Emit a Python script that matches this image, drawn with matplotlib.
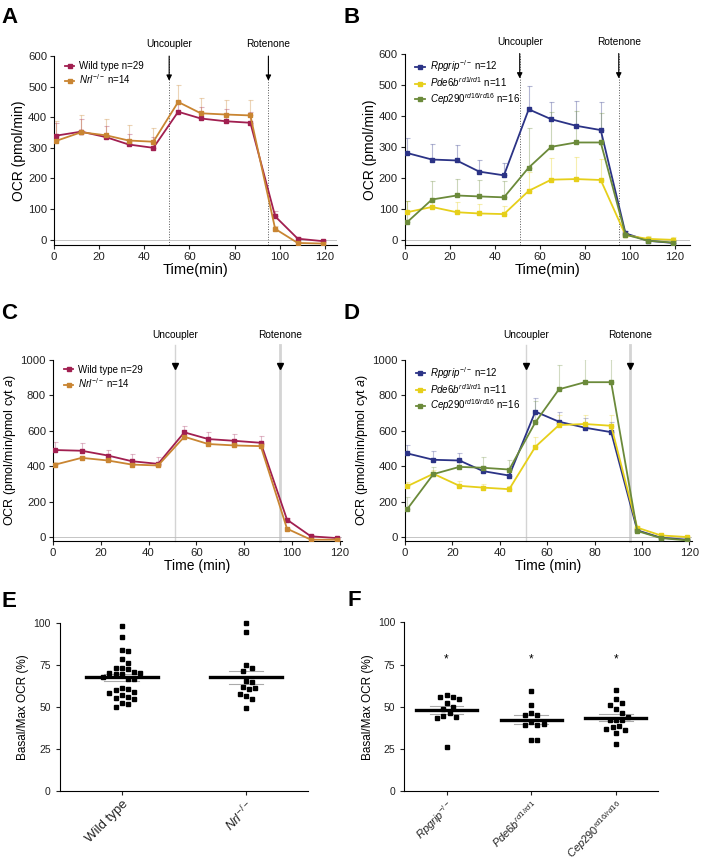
import numpy as np
import matplotlib
matplotlib.use('Agg')
from matplotlib import pyplot as plt

plt.rcParams['font.family'] = 'Liberation Sans'
plt.rcParams['mathtext.fontset'] = 'custom'
plt.rcParams['mathtext.rm'] = 'Liberation Sans'
plt.rcParams['mathtext.it'] = 'Liberation Sans:italic'

# ---------------- data
time = [1, 12, 23, 33, 44, 55, 65, 76, 87, 98, 108, 119]

# A: OCR (pmol/min)
a_wt = [340, 353, 335, 311, 300, 418, 396, 387, 382, 76, 3, -5]
a_wt_err = [40, 40, 38, 33, 36, 35, 36, 40, 36, 18, 5, 4]
a_nrl = [323, 351, 341, 324, 320, 450, 413, 409, 406, 35, -11, -13]
a_nrl_err = [65, 58, 52, 50, 46, 57, 50, 49, 50, 10, 4, 4]

# B: OCR (pmol/min)
b_rpg = [279, 258, 255, 219, 207, 420, 388, 367, 353, 20, -4, -11]
b_rpg_err = [48, 50, 49, 38, 40, 76, 56, 79, 89, 8, 6, 6]
b_pde = [88, 105, 88, 84, 82, 157, 193, 195, 192, 14, 2, -1]
b_pde_err = [36, 30, 32, 32, 25, 60, 69, 70, 68, 8, 10, 10]
b_cep = [56, 129, 142, 139, 136, 232, 299, 313, 313, 16, -4, -10]
b_cep_err = [67, 60, 54, 53, 53, 128, 113, 101, 95, 10, 12, 10]

# C: OCR (pmol/min/pmol cyt a)
c_wt = [491, 487, 460, 428, 413, 591, 553, 543, 532, 98, 4, -6]
c_wt_err = [43, 41, 34, 38, 36, 37, 38, 36, 36, 10, 5, 5]
c_nrl = [409, 447, 432, 409, 404, 566, 525, 517, 513, 47, -15, -15]
c_nrl_err = [12, 10, 10, 10, 10, 12, 10, 10, 10, 5, 3, 3]

# D: OCR (pmol/min/pmol cyt a)
d_rpg = [472, 436, 432, 372, 347, 708, 651, 617, 592, 38, -4, -15]
d_rpg_err = [47, 48, 45, 30, 40, 75, 57, 57, 55, 10, 5, 5]
d_pde = [287, 357, 289, 279, 270, 509, 632, 638, 628, 53, 9, 0]
d_pde_err = [26, 20, 26, 23, 20, 57, 55, 51, 61, 10, 5, 5]
d_cep = [158, 355, 396, 391, 381, 647, 834, 874, 874, 34, -6, -19]
d_cep_err = [68, 40, 40, 61, 55, 120, 136, 130, 130, 10, 5, 5]

# E / F: Basal/Max OCR (%)
e_wt = [98, 91.5, 84, 83.5, 78.5, 76.5, 73.5, 73.5, 72.5, 71, 70.5, 70.5, 69.5, 69.5,
        67, 66.5, 61.5, 61, 60.5, 59, 58.5, 57, 56, 55.5, 55, 52.5, 52, 50, 68]
e_nrl = [100, 95, 75.3, 73.2, 71.8, 65.4, 64.8, 62.2, 60.6, 61.6, 56.7, 54.7, 49.5, 58]
f_rpg = [57, 56, 55.5, 54.5, 52, 50, 48.5, 46.5, 44.5, 44, 43.5, 26.5]
f_pde = [59.2, 50.9, 46.6, 45.4, 45.4, 41, 39, 39, 40, 30.2, 30.2]
f_cep = [60.2, 54.4, 52.2, 51.3, 48.5, 46.3, 42, 42, 42, 38.5, 38, 36.1, 37.1, 34.5, 28.2, 44]

col_wt = '#a11f50'
col_nrl = '#c98532'
col_rpg = '#2b3386'
col_pde = '#e6cf1a'
col_cep = '#6b8a3a'

lab_wt = 'Wild type n=29'
lab_nrl = r'$\mathit{Nrl}^{-/-}$ n=14'
lab_rpg = r'$\mathit{Rpgrip}^{-/-}$ n=12'
lab_pde = r'$\mathit{Pde6b}^{\mathit{rd1/rd1}}$ n=11'
lab_cep = r'$\mathit{Cep290}^{\mathit{rd16/rd16}}$ n=16'

fig = plt.figure(figsize=(7.03, 8.63), dpi=100)


def style(ax):
    for s in ['top', 'right']:
        ax.spines[s].set_visible(False)
    ax.spines['left'].set_linewidth(0.8)
    ax.spines['bottom'].set_linewidth(0.8)
    ax.tick_params(direction='out', length=3, width=0.8, colors='#222222')


def series(ax, y, err, col, lab, err_alpha=0.35):
    ax.errorbar(time, y, yerr=[np.zeros(len(err)), err], fmt='none', ecolor=col,
                alpha=err_alpha, elinewidth=0.8, capsize=1.8, capthick=0.8, zorder=2)
    ax.plot(time, y, color=col, lw=1.3, marker='s', ms=3.2, label=lab, zorder=3)


def trace_panel(ax, lines, top, xmax, ystep, xlabel, ylabel, cd=False):
    style(ax)
    for y, err, col, lab in lines:
        series(ax, y, err, col, lab, err_alpha=0.3 if cd else 0.35)
    ax.set_xlim(0, xmax)
    ax.set_ylim(-0.03 * top if not cd else -23, top)
    ax.set_xticks(range(0, 121, 20))
    ax.set_yticks(range(0, top + 1, ystep))
    ax.tick_params(labelsize=8.2, pad=2)
    ax.axhline(0, color='#bbbbbb', lw=0.6, zorder=1)
    ax.set_xlabel(xlabel, fontsize=10.5 if not cd else 10, labelpad=1)
    ax.set_ylabel(ylabel, fontsize=10 if not cd else 9, labelpad=1.5)
    for xv, txt in [(51, 'Uncoupler'), (95, 'Rotenone')]:
        if cd:
            ax.plot([xv, xv], [0, 1.08], transform=ax.get_xaxis_transform(),
                    color='#d4d4d4', lw=1.0 if xv == 51 else 2.0, clip_on=False, zorder=0)
            ax.plot([xv], [0.965], marker='v', color='k', ms=4,
                    transform=ax.get_xaxis_transform(), clip_on=False)
            ax.annotate(txt, xy=(xv, 1.0), xycoords=('data', 'axes fraction'),
                        xytext=(0, 14), textcoords='offset points',
                        ha='center', va='bottom', fontsize=7.3)
        else:
            ax.axvline(xv, color='#555555', lw=0.7, ls=':', zorder=0)
            ax.annotate('', xy=(xv, 0.87), xycoords=('data', 'axes fraction'),
                        xytext=(xv, 1.0), textcoords=('data', 'axes fraction'),
                        arrowprops=dict(arrowstyle='-|>', color='k', lw=0.8,
                                        mutation_scale=8, shrinkA=0, shrinkB=0))
            ax.annotate(txt, xy=(xv, 1.0), xycoords=('data', 'axes fraction'),
                        xytext=(0, 5), textcoords='offset points',
                        ha='center', va='bottom', fontsize=7.3)
    ax.legend(loc='upper left', frameon=False, fontsize=7, handlelength=1.0,
              handletextpad=0.5, borderaxespad=0.1, labelspacing=0.15,
              bbox_to_anchor=(0.02, 1.0))


axA = fig.add_axes([0.077, 0.716, 0.402, 0.219])
trace_panel(axA, [(a_wt, a_wt_err, col_wt, lab_wt), (a_nrl, a_nrl_err, col_nrl, lab_nrl)],
            600, 125.3, 100, 'Time(min)', 'OCR (pmol/min)')
axB = fig.add_axes([0.576, 0.716, 0.405, 0.222])
trace_panel(axB, [(b_rpg, b_rpg_err, col_rpg, lab_rpg), (b_pde, b_pde_err, col_pde, lab_pde),
                  (b_cep, b_cep_err, col_cep, lab_cep)],
            600, 126.5, 100, 'Time(min)', 'OCR (pmol/min)')
axC = fig.add_axes([0.0754, 0.373, 0.411, 0.210])
trace_panel(axC, [(c_wt, c_wt_err, col_wt, lab_wt), (c_nrl, c_nrl_err, col_nrl, lab_nrl)],
            1000, 121, 200, 'Time (min)', r'OCR (pmol/min/pmol cyt $\mathit{a}$)', cd=True)
axD = fig.add_axes([0.576, 0.373, 0.408, 0.210])
trace_panel(axD, [(d_rpg, d_rpg_err, col_rpg, lab_rpg), (d_pde, d_pde_err, col_pde, lab_pde),
                  (d_cep, d_cep_err, col_cep, lab_cep)],
            1000, 121, 200, 'Time (min)', r'OCR (pmol/min/pmol cyt $\mathit{a}$)', cd=True)


def swarm(ax, xc, vals, d=6.2):
    tr = ax.transData
    inv = tr.inverted()
    placed = []
    xs = []
    for v in vals:
        px, py = tr.transform((xc, v))
        best = px
        for k in range(0, 40):
            cands = [0] if k == 0 else [k, -k]
            ok = None
            for s in cands:
                cx = px + s * d * 0.5
                if all((cx - qx) ** 2 + (py - qy) ** 2 >= d * d for qx, qy in placed):
                    ok = cx
                    break
            if ok is not None:
                best = ok
                break
        placed.append((best, py))
        xs.append(inv.transform((best, py))[0])
    return xs


def dot_panel(ax, groups, labels, xmax, mean_w, sem_w, xfs, stars=False):
    style(ax)
    ax.set_xlim(-0.5, xmax)
    ax.set_ylim(0, 100)
    ax.set_yticks([0, 25, 50, 75, 100])
    ax.tick_params(axis='y', labelsize=7.5)
    ax.tick_params(axis='x', pad=2)
    ax.set_xticks(range(len(groups)))
    ax.set_xticklabels(labels, rotation=45, ha='right', rotation_mode='anchor', fontsize=xfs)
    ax.set_ylabel('Basal/Max OCR (%)', fontsize=8.5, labelpad=3)
    for i, g in enumerate(groups):
        g = np.array(g)
        m = g.mean()
        sem = g.std(ddof=1) / np.sqrt(len(g))
        xs = swarm(ax, i, g)
        ax.plot(xs, g, 's', color='k', ms=3.2, zorder=3, clip_on=False)
        ax.plot([i - mean_w, i + mean_w], [m, m], color='k', lw=2.4, zorder=4)
        for yv in (m - sem, m + sem):
            ax.plot([i - sem_w, i + sem_w], [yv, yv], color='#aaaaaa', lw=0.8, zorder=2)
        if stars:
            ax.text(i, 78, '*', ha='center', va='center', fontsize=8.5)


axE = fig.add_axes([0.085, 0.083, 0.353, 0.195])
dot_panel(axE, [e_wt, e_nrl], ['Wild type', r'$\mathit{Nrl}^{-/-}$'], 1.5, 0.29, 0.14, 9.5)
axF = fig.add_axes([0.575, 0.083, 0.361, 0.196])
dot_panel(axF, [f_rpg, f_pde, f_cep],
          [r'$\mathit{Rpgrip}^{-/-}$', r'$\mathit{Pde6b}^{\mathit{rd1/rd1}}$',
           r'$\mathit{Cep290}^{\mathit{rd16/rd16}}$'], 2.5, 0.36, 0.2, 8.0, stars=True)

for x, y, t in [(0.002, 0.992, 'A'), (0.488, 0.992, 'B'), (0.002, 0.649, 'C'),
                (0.488, 0.649, 'D'), (0.002, 0.315, 'E'), (0.494, 0.316, 'F')]:
    fig.text(x, y, t, fontsize=16, fontweight='bold', va='top', ha='left')

fig.savefig('out.png', dpi=100)
